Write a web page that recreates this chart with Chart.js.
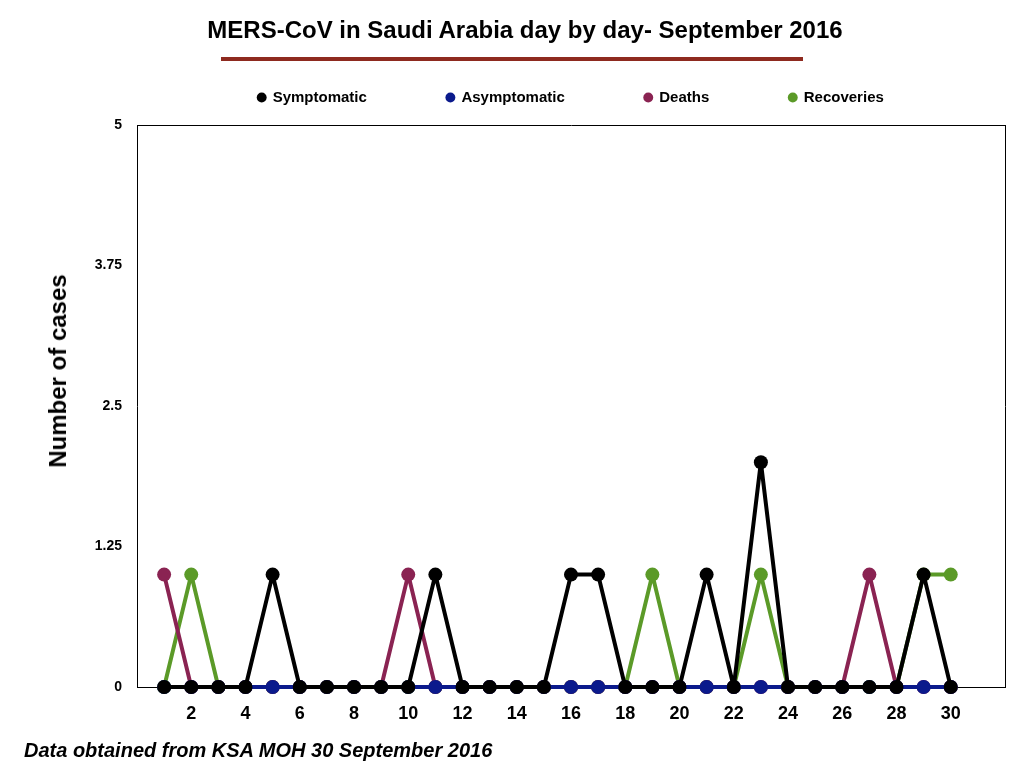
<!DOCTYPE html>
<html>
<head>
<meta charset="utf-8">
<script src="https://cdn.jsdelivr.net/npm/chart.js@4.4.0/dist/chart.umd.min.js"></script>
<style>
  html, body { margin: 0; padding: 0; background: #fff; }
  #wrap { position: relative; width: 1024px; height: 768px; overflow: hidden; font-family: "Liberation Sans", Arial, Helvetica, sans-serif; }
  #c { position: absolute; left: 0; top: 0; }
  #title { position: absolute; left: 0; width: 1050px; top: 16px; text-align: center; font-weight: bold; font-size: 24px; color: #000; white-space: nowrap; }
  #rule { position: absolute; left: 221px; top: 57px; width: 582px; height: 4px; background: #8e2a1f; }
  #ylab { position: absolute; left: 58px; top: 371px; transform: translate(-50%, -50%) rotate(-90deg); font-weight: bold; font-size: 24px; white-space: nowrap; color: #000; }
  #foot { position: absolute; left: 24px; top: 739px; font-weight: bold; font-style: italic; font-size: 20px; white-space: nowrap; color: #000; }
</style>
</head>
<body>
<div id="wrap">
  <canvas id="c" width="1024" height="768"></canvas>
  <div id="title">MERS-CoV in Saudi Arabia day by day- September 2016</div>
  <div id="rule"></div>
  <div id="ylab">Number of cases</div>
  <div id="foot">Data obtained from KSA MOH 30 September 2016</div>
</div>
<script>
const days = [1,2,3,4,5,6,7,8,9,10,11,12,13,14,15,16,17,18,19,20,21,22,23,24,25,26,27,28,29,30];
const symptomatic  = [0,0,0,0,1,0,0,0,0,0,1,0,0,0,0,1,1,0,0,0,1,0,2,0,0,0,0,0,1,0];
const asymptomatic = [0,0,0,0,0,0,0,0,0,0,0,0,0,0,0,0,0,0,0,0,0,0,0,0,0,0,0,0,0,0];
const deaths       = [1,0,0,0,0,0,0,0,0,1,0,0,0,0,0,0,0,0,0,0,0,0,0,0,0,0,1,0,0,0];
const recoveries   = [0,1,0,0,0,0,0,0,0,0,0,0,0,0,0,0,0,0,1,0,0,0,1,0,0,0,0,0,1,1];
const xTickLabels = [2,4,6,8,10,12,14,16,18,20,22,24,26,28,30];
const yTickLabels = [0,1.25,2.5,3.75,5];

const FONT = '"Liberation Sans", Arial, Helvetica, sans-serif';
function pts(arr) { return days.map((d, i) => ({ x: d, y: arr[i] })); }
function ds(label, arr, color) {
  return {
    label: label, data: pts(arr), borderColor: color, backgroundColor: color,
    pointBackgroundColor: color, pointBorderColor: color,
    borderWidth: 4, pointRadius: 7, pointBorderWidth: 0, pointHoverRadius: 7,
    borderJoinStyle: 'round', borderCapStyle: 'round',
    tension: 0, clip: false, fill: false
  };
}

new Chart(document.getElementById('c'), {
  type: 'line',
  data: {
    datasets: [
      ds('Symptomatic', symptomatic, '#000000'),
      ds('Asymptomatic', asymptomatic, '#0b1a8c'),
      ds('Deaths', deaths, '#8a2352'),
      ds('Recoveries', recoveries, '#5b9a28')
    ]
  },
  options: {
    responsive: false,
    animation: false,
    devicePixelRatio: 1,
    layout: { padding: { top: 10, left: 0, right: 0, bottom: 0 } },
    plugins: {
      tooltip: { enabled: false },
      title: { display: false },
      legend: {
        display: true, position: 'top', align: 'center', fullSize: false,
        labels: {
          usePointStyle: true, pointStyle: 'circle', boxWidth: 7, boxHeight: 7,
          padding: 80, color: '#000',
          font: { family: FONT, size: 15, weight: 'bold' }
        }
      }
    },
    scales: {
      x: {
        type: 'linear', position: 'bottom', min: 0, max: 32,
        afterBuildTicks: s => { s.ticks = xTickLabels.map(v => ({ value: v })); },
        afterFit: s => { s.height = 81; },
        grid: { display: false, drawTicks: false },
        border: { display: true, color: '#000', width: 1 },
        ticks: { color: '#000', padding: 16, maxRotation: 0, autoSkip: false,
          font: { family: FONT, size: 18, weight: 'bold' },
          callback: v => String(v) }
      },
      xTop: {
        type: 'linear', position: 'top', min: 0, max: 32,
        afterFit: s => { s.height = 10; },
        grid: { display: false, drawTicks: false },
        border: { display: true, color: '#000', width: 1 },
        ticks: { display: false }
      },
      y: {
        type: 'linear', position: 'left', min: 0, max: 5,
        afterBuildTicks: s => { s.ticks = yTickLabels.map(v => ({ value: v })); },
        afterFit: s => { s.width = 137; },
        grid: { display: false, drawTicks: false },
        border: { display: true, color: '#000', width: 1 },
        ticks: { color: '#000', padding: 15,
          font: { family: FONT, size: 14, weight: 'bold' },
          callback: v => String(v) }
      },
      yRight: {
        type: 'linear', position: 'right', min: 0, max: 5,
        afterFit: s => { s.width = 19; },
        grid: { display: false, drawTicks: false },
        border: { display: true, color: '#000', width: 1 },
        ticks: { display: false }
      }
    }
  }
});
</script>
</body>
</html>
